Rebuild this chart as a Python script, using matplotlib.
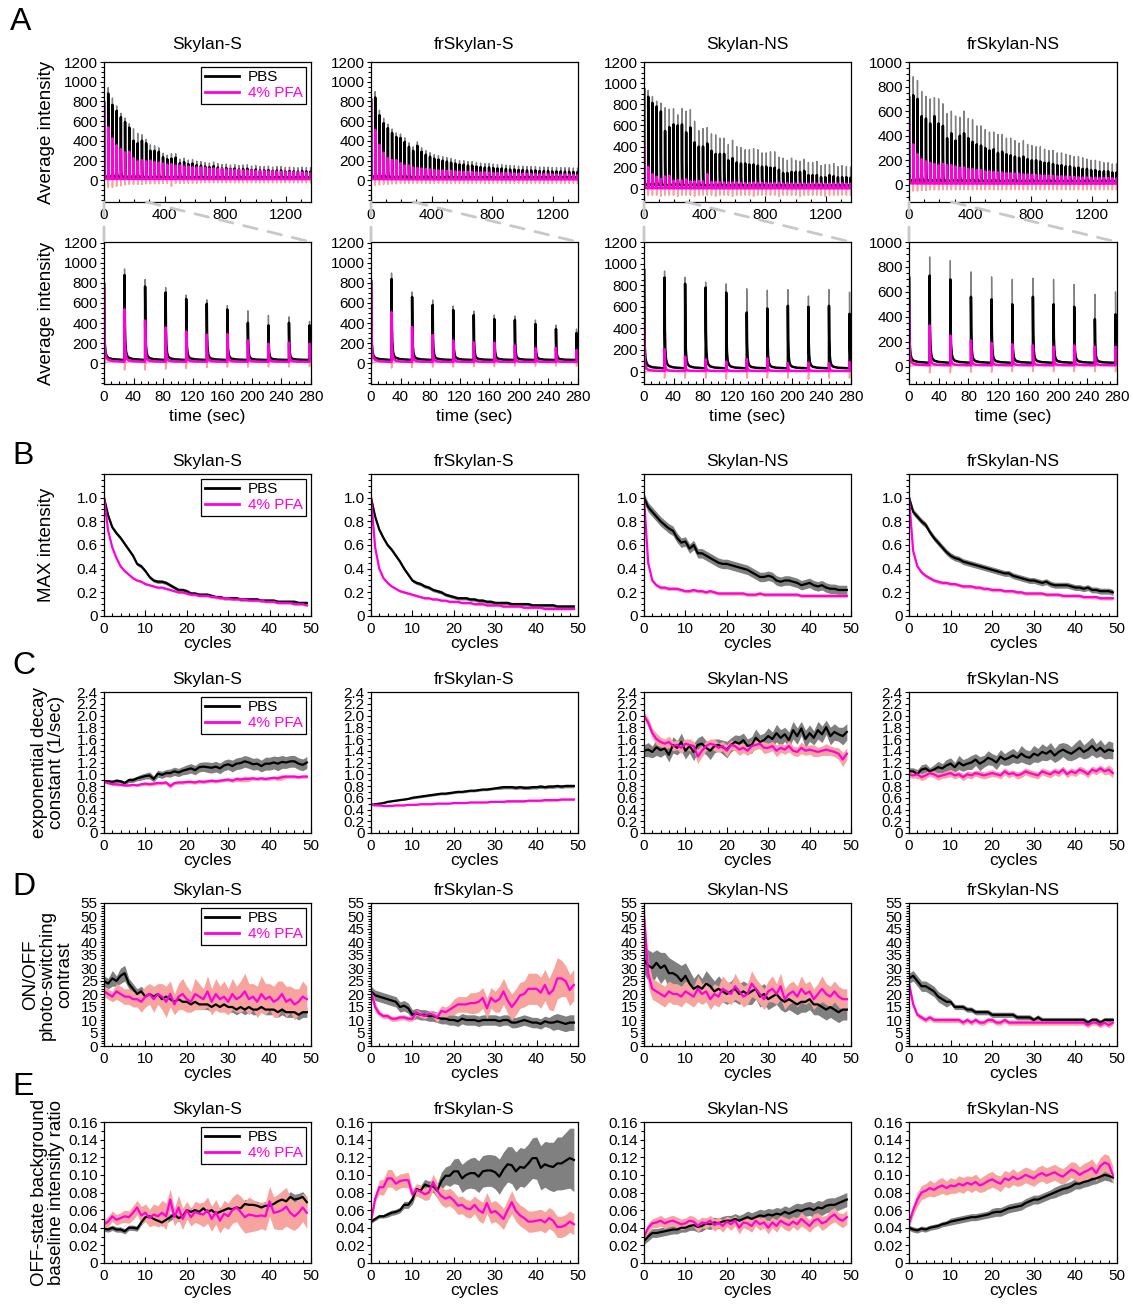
import numpy as np
import matplotlib
matplotlib.use("Agg")
import matplotlib.pyplot as plt
from matplotlib.patches import ConnectionPatch
from matplotlib.ticker import MultipleLocator, FuncFormatter

plt.rcParams['font.family'] = ['Liberation Sans', 'DejaVu Sans']

PROTEINS = ['Skylan-S', 'frSkylan-S', 'Skylan-NS', 'frSkylan-NS']
CYCLES = np.arange(50)

# ---------------- A: average intensity traces ----------------
A_PERIOD = 27.8                                   # sec per switching cycle
DECAY_T = [0, 0.4, 1, 2, 3.5, 6, 12, 27.7]        # sec after activation pulse
DECAY_F = [1, 0.45, 0.22, 0.1, 0.05, 0.025, 0.01, 0]

A_BASE_PBS = [30, 30, 30, 30]
A_BASE_PFA = [12, 10, 5, 10]

A_SKYS_PBS = [800, 880, 765, 705, 640, 592, 535, 402, 376, 402,
              376, 300, 300, 290, 235, 215, 220, 230, 175, 185,
              165, 170, 155, 150, 140, 135, 145, 130, 120, 125,
              115, 120, 110, 115, 118, 105, 110, 100, 100, 105,
              95, 100, 100, 90, 95, 90, 88, 95, 90, 88]
A_SKYS_PBS_SD = [250, 60, 70, 50, 40, 40, 40, 120, 100, 60,
                 40, 60, 50, 40, 40, 40, 50, 40, 40, 40,
                 40, 40, 40, 40, 40, 40, 40, 40, 40, 40,
                 40, 40, 40, 40, 40, 40, 40, 40, 40, 40,
                 40, 40, 40, 40, 40, 40, 40, 40, 40, 40]
A_SKYS_PFA = [760, 538, 425, 356, 316, 283, 290, 226, 193, 203,
              193, 200, 185, 180, 170, 160, 165, 150, 150, 140,
              140, 135, 130, 130, 125, 120, 120, 115, 115, 110,
              110, 105, 105, 100, 100, 100, 95, 95, 92, 90,
              90, 88, 85, 85, 85, 82, 80, 80, 78, 75]
A_SKYS_PFA_LOW = [-70, -70, -70, -60, -55, -45, -40, -40, -40, -40,
                  -35, -35, -35, -35, -30, -30, -60, -30, -30, -30,
                  -30, -30, -30, -25, -25, -25, -25, -25, -25, -25,
                  -25, -25, -25, -25, -25, -25, -25, -25, -25, -25,
                  -25, -25, -25, -25, -25, -25, -25, -25, -25, -25]

A_FRS_PBS = [830, 840, 660, 580, 530, 480, 440, 430, 390, 340,
             300, 350, 290, 260, 240, 220, 210, 200, 190, 180,
             170, 160, 160, 150, 150, 140, 135, 130, 130, 125,
             120, 120, 115, 110, 110, 105, 105, 100, 100, 100,
             95, 95, 95, 90, 90, 90, 88, 88, 85, 85]
A_FRS_PBS_SD = [60, 60, 50, 50, 40, 40, 40, 40, 40, 40,
                40, 40, 40, 40, 40, 40, 40, 40, 40, 40,
                40, 40, 40, 40, 40, 40, 40, 40, 40, 40,
                40, 40, 40, 40, 40, 40, 40, 40, 40, 40,
                40, 40, 40, 40, 40, 40, 40, 40, 40, 40]
A_FRS_PFA = [800, 510, 360, 280, 225, 205, 205, 175, 150, 150,
             130, 125, 120, 115, 110, 105, 100, 100, 95, 95,
             90, 90, 85, 85, 85, 80, 80, 80, 78, 75,
             75, 72, 72, 70, 70, 68, 68, 65, 65, 65,
             62, 62, 60, 60, 60, 58, 58, 58, 55, 55]
A_FRS_PFA_LOW = [-60, -50, -45, -40, -40, -35, -35, -30, -30, -30,
                 -30, -30, -30, -30, -30, -30, -30, -30, -30, -30,
                 -30, -30, -30, -30, -30, -30, -30, -30, -30, -30,
                 -30, -30, -30, -30, -30, -30, -30, -30, -30, -30,
                 -30, -30, -30, -30, -30, -30, -30, -30, -30, -30]

A_SKYNS_PBS = [950, 871, 813, 779, 732, 547, 584, 609, 600, 609,
               535, 580, 440, 400, 400, 430, 360, 330, 330, 330,
               270, 290, 250, 240, 240, 230, 230, 220, 210, 210,
               200, 200, 180, 150, 150, 160, 160, 160, 170, 130,
               130, 130, 110, 110, 130, 120, 110, 110, 110, 105]
A_SKYNS_PBS_SD = [40, 60, 60, 50, 80, 220, 170, 150, 100, 150,
                  200, 170, 200, 150, 170, 150, 160, 180, 150, 150,
                  150, 170, 150, 150, 130, 140, 150, 150, 130, 130,
                  150, 150, 120, 140, 120, 130, 110, 100, 110, 120,
                  120, 130, 110, 120, 100, 120, 100, 110, 100, 100]
A_SKYNS_PFA = [450, 207, 139, 114, 93, 117, 124, 77, 83, 77,
               90, 70, 70, 75, 70, 140, 65, 65, 60, 60,
               60, 60, 60, 55, 55, 55, 60, 55, 55, 55,
               55, 55, 55, 50, 55, 50, 50, 50, 50, 50,
               55, 50, 50, 50, 50, 50, 50, 50, 50, 50]
A_SKYNS_PFA_LOW = [-80, -60, -60, -60, -70, -60, -60, -60, -70, -60,
                   -60, -60, -70, -60, -60, -60, -60, -70, -60, -60,
                   -60, -70, -60, -60, -60, -60, -70, -60, -60, -60,
                   -60, -60, -70, -60, -60, -60, -60, -70, -60, -60,
                   -60, -60, -60, -70, -60, -60, -60, -60, -60, -60]

A_FRNS_PBS = [720, 730, 700, 560, 540, 500, 560, 500, 480, 380,
              420, 360, 400, 420, 380, 350, 330, 320, 300, 280,
              290, 260, 270, 250, 240, 230, 220, 230, 210, 200,
              200, 190, 180, 180, 170, 160, 160, 150, 150, 140,
              140, 130, 130, 120, 120, 110, 110, 110, 100, 100]
A_FRNS_PBS_SD = [150, 150, 150, 200, 180, 200, 150, 200, 180, 200,
                 180, 200, 150, 180, 160, 180, 150, 160, 150, 150,
                 140, 150, 140, 130, 140, 130, 120, 130, 120, 120,
                 110, 120, 110, 100, 110, 100, 100, 100, 90, 90,
                 90, 90, 80, 80, 80, 80, 70, 70, 70, 70]
A_FRNS_PFA = [500, 330, 250, 210, 190, 180, 170, 160, 170, 160,
              160, 150, 140, 140, 130, 130, 120, 120, 110, 110,
              105, 100, 100, 95, 95, 90, 90, 85, 85, 80,
              80, 78, 75, 75, 72, 70, 70, 68, 65, 65,
              62, 60, 60, 58, 58, 56, 55, 55, 54, 52]
A_FRNS_PFA_LOW = [-60, -50, -50, -45, -45, -40, -40, -40, -40, -40,
                  -40, -40, -40, -40, -40, -40, -40, -40, -40, -40,
                  -40, -40, -40, -40, -40, -40, -40, -40, -40, -40,
                  -40, -40, -40, -40, -40, -40, -40, -40, -40, -40,
                  -40, -40, -40, -40, -40, -40, -40, -40, -40, -40]

A_YLIM_TOP = [(-220, 1200), (-220, 1200), (-125, 1200), (-140, 1000)]
A_YLIM_BOT = [(-210, 1210), (-210, 1210), (-115, 1190), (-140, 1000)]
A_YTICK_MAX = [1200, 1200, 1200, 1000]

# ---------------- B: max intensity (x0.01) ----------------
B_SKYS_PBS = [100, 85, 75, 70, 66, 61, 56, 51, 44, 42,
              38, 33, 30, 29, 29, 28, 26, 24, 22, 22,
              21, 19, 19, 18, 18, 18, 17, 16, 16, 15,
              15, 15, 15, 14, 14, 14, 14, 14, 13, 13,
              13, 13, 12, 12, 12, 12, 12, 11, 11, 11]
B_SKYS_PFA = [100, 72, 58, 49, 42, 38, 35, 32, 30, 29,
              27, 26, 25, 24, 24, 23, 22, 21, 20, 20,
              19, 18, 18, 17, 17, 17, 16, 16, 15, 15,
              15, 14, 14, 14, 14, 13, 13, 13, 13, 12,
              12, 12, 11, 11, 11, 11, 10, 10, 10, 9]
B_FRS_PBS = [100, 84, 73, 66, 60, 56, 51, 46, 40, 35,
             30, 28, 27, 25, 24, 22, 21, 20, 18, 17,
             16, 15, 15, 15, 14, 14, 13, 13, 12, 12,
             11, 11, 11, 11, 10, 10, 10, 10, 10, 9,
             9, 9, 9, 9, 9, 8, 8, 8, 8, 8]
B_FRS_PFA = [100, 58, 40, 32, 28, 25, 23, 21, 20, 19,
             18, 17, 16, 15, 15, 14, 14, 13, 13, 12,
             12, 12, 11, 11, 11, 10, 10, 10, 9, 9,
             9, 9, 8, 8, 8, 8, 8, 7, 7, 7,
             7, 7, 6, 6, 6, 6, 6, 6, 6, 6]
B_SKYNS_PBS = [100, 92, 88, 84, 80, 77, 74, 72, 66, 62,
               63, 57, 60, 53, 53, 51, 49, 47, 45, 44,
               44, 43, 42, 41, 40, 39, 37, 35, 33, 33,
               34, 33, 30, 29, 30, 30, 29, 28, 26, 27,
               28, 26, 25, 26, 24, 23, 23, 22, 22, 22]
B_SKYNS_PFA = [100, 45, 30, 26, 24, 24, 23, 23, 23, 22,
               21, 21, 22, 21, 21, 20, 21, 20, 19, 19,
               19, 19, 19, 19, 19, 18, 18, 18, 19, 18,
               18, 18, 18, 18, 18, 18, 18, 18, 17, 17,
               17, 17, 17, 17, 17, 17, 17, 17, 17, 17]
B_FRNS_PBS = [100, 88, 84, 80, 77, 71, 66, 62, 58, 54,
              51, 49, 48, 46, 45, 44, 43, 42, 41, 40,
              39, 38, 37, 36, 36, 34, 33, 32, 31, 30,
              30, 29, 28, 29, 27, 26, 26, 26, 26, 25,
              24, 24, 23, 24, 22, 22, 21, 21, 21, 20]
B_FRNS_PFA = [100, 55, 42, 37, 34, 32, 30, 29, 28, 28,
              27, 27, 26, 25, 25, 25, 24, 24, 23, 23,
              22, 22, 22, 21, 21, 21, 20, 20, 19, 19,
              19, 19, 19, 18, 18, 18, 18, 17, 17, 17,
              17, 17, 16, 16, 16, 16, 15, 15, 15, 15]
B_SD_PBS = [1.5, 1.5, 4.0, 2.5]
B_SD_PFA = [1.0, 1.0, 1.5, 1.5]

# ---------------- C: exponential decay constant (x0.01) ----------------
C_SKYS_PBS = [88, 88, 87, 89, 88, 85, 90, 90, 93, 95,
              97, 98, 92, 101, 99, 102, 102, 105, 103, 106,
              108, 110, 107, 112, 113, 112, 111, 113, 110, 115,
              117, 114, 118, 119, 122, 120, 117, 118, 114, 118,
              118, 120, 118, 121, 120, 122, 122, 118, 116, 120]
C_SKYS_PBS_SD = [3, 3, 3, 3, 3, 3, 4, 4, 4, 5,
                 5, 6, 5, 6, 6, 6, 7, 7, 7, 7,
                 8, 8, 8, 8, 8, 9, 9, 9, 9, 9,
                 9, 10, 10, 10, 10, 10, 10, 10, 10, 11,
                 11, 11, 12, 11, 10, 10, 10, 10, 10, 10]
C_SKYS_PFA = [87, 85, 83, 83, 82, 81, 81, 82, 81, 83,
              84, 83, 84, 85, 85, 86, 80, 85, 86, 86,
              87, 87, 86, 88, 87, 88, 89, 88, 89, 90,
              91, 89, 92, 91, 92, 92, 93, 92, 93, 92,
              93, 94, 93, 95, 96, 96, 96, 95, 96, 96]
C_SKYS_PFA_SD = [2, 2, 2, 3, 2, 2, 2, 2, 2, 3,
                 3, 3, 3, 3, 3, 3, 4, 3, 3, 3,
                 3, 3, 3, 3, 3, 3, 3, 3, 3, 3,
                 3, 3, 4, 4, 5, 4, 3, 3, 3, 3,
                 3, 3, 4, 5, 3, 3, 3, 3, 3, 3]
C_FRS_PBS = [48, 49, 50, 51, 53, 54, 55, 56, 57, 58,
             60, 61, 62, 63, 64, 65, 66, 67, 67, 68,
             69, 70, 70, 71, 72, 72, 73, 74, 74, 75,
             76, 77, 78, 78, 78, 77, 78, 77, 77, 78,
             78, 79, 78, 79, 79, 80, 79, 80, 80, 80]
C_FRS_PBS_SD = [1, 1, 1, 1, 1, 1, 1, 1, 1, 1,
                2, 2, 2, 2, 2, 2, 2, 2, 2, 2,
                2, 2, 2, 2, 2, 2, 2, 2, 2, 2,
                2, 3, 3, 3, 3, 3, 3, 3, 3, 3,
                3, 3, 3, 3, 3, 3, 3, 3, 3, 3]
C_FRS_PFA = [48, 47, 47, 46, 46, 46, 47, 47, 47, 48,
             48, 48, 49, 49, 49, 49, 50, 50, 50, 50,
             51, 51, 51, 51, 52, 52, 52, 52, 52, 53,
             53, 53, 53, 54, 54, 54, 54, 54, 55, 55,
             55, 55, 56, 56, 56, 56, 57, 57, 57, 57]
C_FRS_PFA_SD = [1, 1, 1, 1, 1, 1, 1, 1, 1, 1,
                1, 1, 1, 1, 1, 1, 1, 1, 1, 1,
                1, 1, 1, 1, 1, 1, 1, 1, 1, 1,
                1, 1, 2, 2, 2, 2, 2, 2, 2, 2,
                2, 2, 2, 2, 2, 2, 2, 2, 2, 2]
C_SKYNS_PBS = [140, 142, 138, 146, 141, 144, 133, 150, 145, 155,
               140, 148, 138, 150, 152, 145, 140, 148, 150, 146,
               142, 150, 155, 152, 158, 148, 150, 162, 155, 158,
               165, 160, 170, 162, 168, 158, 175, 165, 178, 160,
               170, 162, 175, 168, 180, 165, 172, 168, 165, 172]
C_SKYNS_PBS_SD = [10, 12, 10, 14, 12, 10, 12, 14, 12, 15,
                  14, 12, 15, 12, 14, 12, 15, 12, 10, 12,
                  14, 12, 12, 14, 12, 12, 14, 15, 12, 12,
                  14, 12, 15, 14, 12, 14, 15, 14, 12, 15,
                  14, 12, 15, 14, 12, 15, 14, 12, 15, 14]
C_SKYNS_PFA = [200, 188, 170, 160, 155, 152, 155, 148, 150, 145,
               152, 150, 148, 130, 140, 148, 152, 150, 145, 148,
               140, 150, 148, 142, 145, 140, 148, 150, 152, 145,
               145, 148, 140, 145, 142, 148, 140, 138, 145, 140,
               142, 140, 138, 140, 142, 140, 138, 135, 125, 135]
C_SKYNS_PFA_SD = [6, 8, 8, 10, 8, 8, 10, 8, 8, 10,
                  8, 10, 8, 12, 10, 8, 8, 10, 8, 8,
                  10, 8, 8, 10, 8, 8, 10, 8, 8, 10,
                  8, 8, 10, 8, 8, 10, 8, 8, 10, 8,
                  8, 10, 8, 8, 10, 8, 8, 10, 12, 10]
C_FRNS_PBS = [105, 105, 100, 108, 110, 105, 108, 112, 110, 115,
              118, 112, 120, 115, 118, 120, 125, 118, 122, 128,
              125, 120, 130, 125, 128, 132, 128, 135, 130, 128,
              135, 132, 138, 135, 140, 132, 138, 142, 138, 135,
              140, 145, 138, 142, 148, 140, 145, 138, 142, 140]
C_FRNS_PBS_SD = [6, 6, 8, 8, 8, 6, 8, 10, 8, 10,
                 10, 8, 12, 10, 10, 12, 10, 12, 10, 12,
                 10, 12, 12, 10, 12, 12, 10, 14, 12, 12,
                 14, 12, 14, 12, 14, 12, 14, 12, 14, 12,
                 14, 15, 12, 14, 15, 12, 14, 12, 15, 14]
C_FRNS_PFA = [100, 98, 100, 95, 98, 102, 100, 96, 98, 100,
              102, 98, 100, 95, 100, 98, 102, 100, 98, 100,
              102, 100, 98, 105, 100, 102, 98, 100, 105, 102,
              100, 98, 105, 102, 100, 105, 102, 108, 100, 105,
              102, 108, 105, 100, 108, 105, 110, 105, 108, 102]
C_FRNS_PFA_SD = [5, 5, 6, 6, 6, 5, 6, 6, 5, 6,
                 6, 6, 5, 6, 6, 6, 5, 6, 6, 6,
                 6, 5, 6, 6, 6, 5, 6, 6, 6, 6,
                 6, 6, 6, 6, 6, 6, 6, 6, 6, 6,
                 6, 6, 6, 6, 6, 6, 6, 6, 8, 8]

# ---------------- D: ON/OFF contrast ----------------
D_SKYS_PBS = [25, 24, 26, 25, 27, 28, 24, 22, 20, 21,
              19, 20, 19, 20, 18, 19, 18, 17, 18, 17,
              17, 16, 17, 16, 16, 16, 15, 16, 15, 16,
              15, 15, 14, 15, 14, 15, 14, 14, 15, 14,
              14, 14, 13, 14, 13, 13, 13, 12, 13, 13]
D_SKYS_PBS_SD = [2, 2, 3, 2, 3, 3, 2, 2, 2, 2,
                 2, 2, 2, 2, 2, 2, 2, 2, 2, 2,
                 2, 2, 2, 2, 2, 2, 2, 2, 2, 2,
                 2, 2, 2, 2, 2, 2, 2, 2, 2, 2,
                 2, 2, 2, 2, 2, 2, 2, 2, 2, 2]
D_SKYS_PFA = [21, 20, 19, 21, 20, 19, 19, 18, 18, 17,
              19, 20, 18, 20, 19, 17, 20, 16, 19, 20,
              18, 17, 20, 19, 18, 21, 17, 20, 18, 19,
              17, 20, 18, 19, 21, 18, 19, 17, 20, 18,
              19, 17, 18, 20, 17, 18, 16, 17, 19, 18]
D_SKYS_PFA_SD = [2, 2, 2, 3, 3, 3, 3, 3, 3, 4,
                 4, 4, 5, 4, 5, 6, 5, 4, 5, 6,
                 5, 4, 6, 5, 4, 6, 5, 6, 5, 6,
                 5, 6, 5, 6, 7, 6, 5, 6, 7, 6,
                 5, 6, 7, 5, 6, 5, 6, 5, 6, 5]
D_FRS_PBS = [21, 19.5, 19, 18.5, 18, 17.5, 17, 15, 15.5, 14.5,
             12, 12.5, 12, 12, 11.5, 11.5, 11, 10.5, 10.5, 10,
             10, 9.5, 10.5, 10, 10, 10, 9.5, 10, 10, 10,
             10, 9.5, 10, 10, 9, 9, 9.5, 10, 9.5, 9,
             9, 8.5, 9.5, 9, 9, 9.5, 9, 8.5, 9, 9]
D_FRS_PBS_SD = [2, 2, 2, 2, 2, 2, 2, 2, 2, 2,
                2, 2, 2, 2, 2, 2, 2, 2, 2, 2,
                2, 2, 2, 2, 2, 2, 2, 2, 2, 2,
                2, 2, 2, 2, 2, 2, 2, 2, 2, 2,
                2, 2, 2, 2, 3, 3, 3, 3, 3, 3]
D_FRS_PFA = [21, 15, 12.5, 11.5, 11.5, 10.5, 10.5, 11, 11, 10.5,
             10.5, 13, 12, 11.5, 12.5, 12, 11, 13.5, 13, 14,
             15, 16, 16, 16, 16.5, 16.5, 17, 18.5, 14.5, 18.5,
             17, 18, 21, 17.5, 15, 17, 19.5, 20, 22, 22,
             22, 20.5, 23.5, 20, 21.5, 26, 26, 25, 21.5, 23.5]
D_FRS_PFA_SD = [2, 2, 1, 1, 1, 1, 1, 1, 1, 1,
                1, 1, 1, 1, 1, 1, 2, 2, 2, 2,
                3, 3, 3, 3, 4, 4, 4, 4, 4, 4,
                4, 5, 5, 5, 5, 5, 5, 5, 6, 6,
                6, 6, 6, 6, 8, 8, 7, 6, 6, 6]
D_SKYNS_PBS = [33, 31, 30, 32, 30, 31, 28, 28, 27, 25,
               27, 24, 22, 23, 22, 24, 23, 21, 22, 21,
               20, 21, 22, 20, 21, 20, 21, 22, 19, 20,
               18, 19, 20, 18, 17, 18, 17, 16, 17, 17,
               18, 16, 16, 15, 14, 15, 14, 13, 14, 14]
D_SKYNS_PBS_SD = [5, 6, 6, 5, 6, 5, 6, 5, 5, 6,
                  5, 5, 4, 5, 4, 5, 4, 4, 5, 4,
                  4, 4, 5, 4, 4, 4, 5, 4, 4, 4,
                  4, 4, 4, 4, 4, 4, 4, 4, 4, 4,
                  4, 4, 4, 4, 4, 4, 4, 4, 4, 4]
D_SKYNS_PFA = [50, 28, 22, 21, 20, 19, 21, 20, 20, 19,
               21, 20, 19, 22, 20, 21, 18, 20, 19, 22,
               21, 20, 23, 21, 19, 20, 24, 22, 20, 18,
               21, 22, 20, 23, 18, 20, 21, 19, 22, 20,
               21, 18, 20, 22, 20, 19, 21, 19, 18, 18]
D_SKYNS_PFA_SD = [6, 5, 4, 4, 4, 4, 4, 4, 4, 4,
                  4, 4, 4, 5, 4, 4, 4, 4, 4, 5,
                  4, 4, 5, 4, 4, 4, 5, 4, 4, 4,
                  4, 5, 4, 5, 4, 4, 4, 4, 5, 4,
                  4, 4, 4, 5, 4, 4, 4, 4, 4, 4]
D_FRNS_PBS = [26, 27, 25, 23, 23, 22, 21, 19, 18, 17,
              17, 15, 15, 15, 14, 14, 13, 13, 13, 13,
              12, 12, 12, 12, 12, 12, 11, 11, 11, 11,
              10, 11, 10, 10, 10, 10, 10, 10, 10, 10,
              10, 10, 10, 9, 10, 10, 9, 10, 10, 10]
D_FRNS_PBS_SD = [2, 2, 2, 2, 2, 2, 2, 2, 2, 2,
                 1, 1, 1, 1, 1, 1, 1, 1, 1, 1,
                 1, 1, 1, 1, 1, 1, 1, 1, 1, 1,
                 1, 1, 1, 1, 1, 1, 1, 1, 1, 1,
                 1, 1, 1, 1, 1, 1, 1, 1, 1, 1]
D_FRNS_PFA = [24, 16, 12, 11, 10, 11, 10, 10, 10, 10,
              10, 10, 10, 9, 10, 9, 10, 9, 9, 10,
              10, 9, 9, 10, 9, 9, 9, 9, 9, 9,
              9, 9, 9, 9, 9, 9, 9, 9, 9, 9,
              9, 9, 9, 8, 9, 9, 8, 9, 8, 9]
D_FRNS_PFA_SD = [2, 1, 1, 1, 1, 1, 1, 1, 1, 1,
                 1, 1, 1, 1, 1, 1, 1, 1, 1, 1,
                 1, 1, 1, 1, 1, 1, 1, 1, 1, 1,
                 1, 1, 1, 1, 1, 1, 1, 1, 1, 1,
                 1, 1, 1, 1, 1, 1, 1, 1, 1, 1]

# ---------------- E: OFF-state baseline ratio (x0.001) ----------------
E_SKYS_PBS = [39, 38, 40, 38, 38, 36, 40, 40, 39, 46,
              52, 53, 50, 48, 46, 49, 52, 55, 51, 53,
              60, 58, 60, 58, 62, 58, 60, 56, 58, 60,
              62, 61, 63, 62, 67, 66, 66, 65, 63, 65,
              65, 67, 70, 72, 70, 75, 72, 73, 75, 69]
E_SKYS_PBS_SD = [3, 3, 3, 3, 3, 3, 3, 3, 3, 3,
                 4, 4, 4, 4, 4, 4, 4, 4, 4, 4,
                 5, 5, 5, 5, 5, 5, 5, 5, 5, 5,
                 5, 5, 5, 5, 5, 5, 5, 5, 5, 5,
                 6, 6, 6, 6, 6, 6, 6, 6, 6, 6]
E_SKYS_PFA = [44, 47, 53, 49, 51, 53, 52, 57, 63, 54,
              57, 51, 55, 53, 57, 53, 72, 52, 63, 50,
              60, 52, 58, 56, 55, 60, 50, 58, 48, 56,
              53, 60, 63, 58, 52, 55, 54, 53, 54, 53,
              70, 57, 58, 60, 64, 57, 53, 57, 63, 57]
E_SKYS_PFA_SD = [5, 6, 6, 6, 6, 7, 7, 8, 8, 10,
                 10, 10, 12, 12, 14, 15, 12, 10, 14, 12,
                 10, 10, 12, 12, 14, 15, 14, 14, 14, 15,
                 15, 15, 16, 18, 18, 20, 18, 16, 15, 16,
                 17, 18, 20, 22, 22, 18, 16, 16, 16, 18]
E_FRS_PBS = [47, 50, 53, 53, 55, 57, 58, 60, 66, 66,
             72, 84, 82, 89, 87, 87, 82, 93, 99, 99,
             104, 104, 96, 100, 102, 102, 98, 104, 105, 105,
             103, 98, 106, 112, 111, 104, 109, 108, 113, 119,
             119, 108, 112, 110, 109, 113, 113, 116, 119, 117]
E_FRS_PBS_SD = [2, 2, 2, 2, 3, 3, 3, 3, 4, 4,
                5, 5, 6, 6, 6, 7, 8, 10, 10, 12,
                14, 15, 16, 16, 17, 18, 18, 18, 18, 18,
                19, 20, 20, 20, 21, 22, 22, 22, 22, 23,
                24, 25, 26, 27, 28, 30, 30, 32, 34, 36]
E_FRS_PFA = [47, 73, 86, 86, 96, 96, 90, 93, 94, 94,
             78, 83, 81, 78, 80, 92, 82, 76, 73, 75,
             71, 65, 66, 62, 61, 66, 60, 57, 68, 57,
             59, 55, 50, 60, 69, 59, 54, 51, 47, 47,
             48, 49, 46, 51, 48, 41, 41, 43, 47, 44]
E_FRS_PFA_SD = [3, 4, 8, 9, 10, 10, 8, 8, 8, 9,
                6, 7, 7, 7, 8, 9, 9, 10, 10, 10,
                10, 10, 10, 10, 10, 10, 12, 12, 12, 12,
                12, 12, 12, 12, 13, 12, 12, 12, 12, 12,
                12, 12, 12, 12, 12, 12, 12, 12, 12, 12]
E_SKYNS_PBS = [25, 30, 34, 34, 35, 36, 37, 38, 38, 40,
               40, 42, 43, 41, 42, 45, 44, 46, 45, 47,
               48, 48, 50, 48, 50, 52, 50, 52, 54, 53,
               55, 54, 56, 55, 58, 56, 58, 60, 59, 61,
               62, 60, 63, 62, 65, 66, 66, 68, 70, 72]
E_SKYNS_PBS_SD = [4, 5, 5, 5, 5, 5, 5, 5, 5, 5,
                  5, 5, 6, 6, 6, 6, 6, 6, 6, 6,
                  6, 6, 6, 6, 6, 7, 7, 7, 7, 7,
                  7, 7, 7, 7, 7, 7, 8, 8, 8, 8,
                  8, 8, 8, 8, 8, 8, 8, 8, 8, 8]
E_SKYNS_PFA = [30, 40, 45, 46, 48, 45, 47, 48, 46, 44,
               45, 48, 47, 42, 46, 45, 48, 43, 46, 42,
               47, 44, 48, 40, 46, 45, 42, 48, 44, 46,
               40, 46, 42, 48, 45, 43, 47, 44, 50, 46,
               42, 48, 50, 45, 47, 52, 55, 50, 48, 52]
E_SKYNS_PFA_SD = [4, 5, 5, 6, 6, 6, 6, 6, 6, 6,
                  6, 6, 6, 7, 6, 6, 6, 7, 6, 7,
                  6, 7, 6, 7, 6, 7, 7, 6, 7, 6,
                  7, 6, 7, 6, 7, 7, 6, 7, 8, 7,
                  7, 8, 7, 8, 7, 8, 8, 7, 8, 8]
E_FRNS_PBS = [40, 38, 37, 39, 38, 40, 41, 42, 44, 45,
              47, 48, 49, 50, 51, 52, 52, 53, 54, 55,
              57, 58, 58, 60, 62, 63, 64, 65, 68, 70,
              72, 72, 74, 76, 78, 80, 82, 84, 85, 87,
              90, 90, 92, 93, 95, 96, 98, 100, 99, 97]
E_FRNS_PBS_SD = [3, 3, 3, 3, 3, 3, 3, 3, 3, 3,
                 4, 4, 4, 4, 4, 4, 4, 4, 4, 4,
                 5, 5, 5, 5, 5, 5, 5, 5, 5, 5,
                 5, 5, 5, 5, 5, 6, 6, 6, 6, 6,
                 6, 6, 6, 6, 6, 6, 6, 6, 6, 6]
E_FRNS_PFA = [45, 60, 72, 80, 82, 85, 83, 86, 88, 85,
              88, 87, 90, 88, 91, 89, 92, 88, 90, 93,
              95, 92, 90, 96, 94, 98, 95, 97, 100, 98,
              96, 100, 102, 99, 101, 103, 100, 98, 102, 106,
              104, 100, 103, 105, 108, 102, 110, 114, 112, 100]
E_FRNS_PFA_SD = [5, 6, 8, 8, 8, 9, 8, 9, 9, 8,
                 9, 8, 9, 9, 8, 9, 9, 8, 9, 9,
                 9, 8, 9, 9, 9, 9, 8, 9, 9, 9,
                 9, 9, 9, 9, 9, 9, 9, 9, 9, 9,
                 10, 9, 10, 10, 10, 9, 10, 10, 10, 10]

# ---------------- styling ----------------
BLACK = 'black'
PINK = '#ff00dd'
GREY = '#808080'
SALMON = '#f8a49e'
LEG_LABELS = ['PBS', '4% PFA']

W, H = 1133, 1304
COL_X = [(104, 311), (371, 578), (644, 851), (909, 1117)]
ROW_Y = [(62, 202), (242, 384), (474, 616), (692, 833), (903, 1046), (1122, 1263)]

fig = plt.figure(figsize=(W / 100, H / 100), dpi=100)


def make_ax(r, c):
    x0, x1 = COL_X[c]
    y0, y1 = ROW_Y[r]
    return fig.add_axes([x0 / W, 1 - y1 / H, (x1 - x0) / W, (y1 - y0) / H])


def style(ax):
    ax.tick_params(axis='both', which='both', labelsize=11, width=0.8)
    ax.tick_params(axis='x', which='major', direction='in', length=4, pad=4)
    ax.tick_params(axis='x', which='minor', direction='in', length=2.5)
    ax.tick_params(axis='y', which='major', direction='out', length=3, pad=1.5)
    ax.tick_params(axis='y', which='minor', direction='out', length=2)
    for s in ax.spines.values():
        s.set_linewidth(0.9)


def zero_fmt(dec):
    return FuncFormatter(lambda v, p: '0' if abs(v) < 1e-9 else f'{v:.{dec}f}')


def add_legend(ax):
    h = [plt.Line2D([], [], color=BLACK, lw=2), plt.Line2D([], [], color=PINK, lw=2)]
    leg = ax.legend(h, LEG_LABELS, loc='upper right', fontsize=11, frameon=True,
                    fancybox=False, framealpha=1, edgecolor='black', borderpad=0.25,
                    handlelength=2.2, handletextpad=0.6, labelspacing=0.1,
                    borderaxespad=0.3, labelcolor=[BLACK, PINK])
    leg.get_frame().set_linewidth(0.9)


def trace(peaks, base, top_vals=None):
    # each cycle: jump from baseline to the value at the pulse, then decay shape
    ts, ys = [], []
    vals = peaks if top_vals is None else top_vals
    for k, v in enumerate(vals):
        t0 = k * A_PERIOD
        ts.append(t0)
        ys.append(base)
        for dt, f in zip(DECAY_T, DECAY_F):
            ts.append(t0 + dt)
            ys.append(base + (v - base) * f)
    return np.array(ts), np.array(ys)


A_PBS = [A_SKYS_PBS, A_FRS_PBS, A_SKYNS_PBS, A_FRNS_PBS]
A_PBS_SD = [A_SKYS_PBS_SD, A_FRS_PBS_SD, A_SKYNS_PBS_SD, A_FRNS_PBS_SD]
A_PFA = [A_SKYS_PFA, A_FRS_PFA, A_SKYNS_PFA, A_FRNS_PFA]
A_PFA_LOW = [A_SKYS_PFA_LOW, A_FRS_PFA_LOW, A_SKYNS_PFA_LOW, A_FRNS_PFA_LOW]

for c in range(4):
    bp, bf = A_BASE_PBS[c], A_BASE_PFA[c]
    t, y_pbs = trace(A_PBS[c], bp)
    _, y_hi = trace(A_PBS[c], bp, list(np.array(A_PBS[c]) + np.array(A_PBS_SD[c])))
    _, y_pfa = trace(A_PFA[c], bf)
    _, y_lo = trace(A_PFA[c], bf, A_PFA_LOW[c])
    axes_pair = []
    for r, xlim in ((0, (0, 1365)), (1, (0, 280))):
        ax = make_ax(r, c)
        lw = 1.8
        ax.plot(t, y_hi, color=GREY, lw=1.0)
        ax.plot(t, y_lo, color=SALMON, lw=1.2)
        ax.plot(t, y_pbs, color=BLACK, lw=lw)
        ax.plot(t, y_pfa, color=PINK, lw=lw)
        ax.set_xlim(*xlim)
        ax.set_ylim(*(A_YLIM_TOP[c] if r == 0 else A_YLIM_BOT[c]))
        ax.set_yticks(np.arange(0, A_YTICK_MAX[c] + 1, 200))
        ax.yaxis.set_minor_locator(MultipleLocator(50))
        if r == 0:
            ax.set_xticks([0, 400, 800, 1200])
            ax.xaxis.set_minor_locator(MultipleLocator(100))
            ax.set_title(PROTEINS[c], fontsize=12.5, pad=9)
        else:
            ax.set_xticks(np.arange(0, 281, 40))
            ax.xaxis.set_minor_locator(MultipleLocator(10))
            ax.set_xlabel('time (sec)', fontsize=12.5, labelpad=4)
        style(ax)
        if c == 0:
            ax.set_ylabel('Average intensity', fontsize=13.5)
            ax.yaxis.set_label_coords(-0.235, 0.5)
            if r == 0:
                add_legend(ax)
        axes_pair.append(ax)
    top, bot = axes_pair
    for xv in (0, 280):
        con = ConnectionPatch(xyA=(xv, top.get_ylim()[0]), coordsA=top.transData,
                              xyB=(xv, bot.get_ylim()[1]), coordsB=bot.transData,
                              color='#c8c8c8', lw=2, linestyle=(0, (5, 4)))
        fig.add_artist(con)

# ---------------- B..E cycle panels ----------------
pct = lambda v: np.array(v, dtype=float) / 100.0
mil = lambda v: np.array(v, dtype=float) / 1000.0

B_ROWS = [
    [(pct(B_SKYS_PBS), np.full(50, B_SD_PBS[0] / 100)), (pct(B_SKYS_PFA), np.full(50, B_SD_PFA[0] / 100))],
    [(pct(B_FRS_PBS), np.full(50, B_SD_PBS[1] / 100)), (pct(B_FRS_PFA), np.full(50, B_SD_PFA[1] / 100))],
    [(pct(B_SKYNS_PBS), np.full(50, B_SD_PBS[2] / 100)), (pct(B_SKYNS_PFA), np.full(50, B_SD_PFA[2] / 100))],
    [(pct(B_FRNS_PBS), np.full(50, B_SD_PBS[3] / 100)), (pct(B_FRNS_PFA), np.full(50, B_SD_PFA[3] / 100))],
]
C_ROWS = [
    [(pct(C_SKYS_PBS), pct(C_SKYS_PBS_SD)), (pct(C_SKYS_PFA), pct(C_SKYS_PFA_SD))],
    [(pct(C_FRS_PBS), pct(C_FRS_PBS_SD)), (pct(C_FRS_PFA), pct(C_FRS_PFA_SD))],
    [(pct(C_SKYNS_PBS), pct(C_SKYNS_PBS_SD)), (pct(C_SKYNS_PFA), pct(C_SKYNS_PFA_SD))],
    [(pct(C_FRNS_PBS), pct(C_FRNS_PBS_SD)), (pct(C_FRNS_PFA), pct(C_FRNS_PFA_SD))],
]
D_ROWS = [
    [(np.array(D_SKYS_PBS), np.array(D_SKYS_PBS_SD)), (np.array(D_SKYS_PFA), np.array(D_SKYS_PFA_SD))],
    [(np.array(D_FRS_PBS), np.array(D_FRS_PBS_SD)), (np.array(D_FRS_PFA), np.array(D_FRS_PFA_SD))],
    [(np.array(D_SKYNS_PBS), np.array(D_SKYNS_PBS_SD)), (np.array(D_SKYNS_PFA), np.array(D_SKYNS_PFA_SD))],
    [(np.array(D_FRNS_PBS), np.array(D_FRNS_PBS_SD)), (np.array(D_FRNS_PFA), np.array(D_FRNS_PFA_SD))],
]
E_ROWS = [
    [(mil(E_SKYS_PBS), mil(E_SKYS_PBS_SD)), (mil(E_SKYS_PFA), mil(E_SKYS_PFA_SD))],
    [(mil(E_FRS_PBS), mil(E_FRS_PBS_SD)), (mil(E_FRS_PFA), mil(E_FRS_PFA_SD))],
    [(mil(E_SKYNS_PBS), mil(E_SKYNS_PBS_SD)), (mil(E_SKYNS_PFA), mil(E_SKYNS_PFA_SD))],
    [(mil(E_FRNS_PBS), mil(E_FRNS_PBS_SD)), (mil(E_FRNS_PFA), mil(E_FRNS_PFA_SD))],
]

PANELS = [
    # row, data, ylim, yticks, minor, decimals, ylabel, label x
    (2, B_ROWS, (0, 1.2), np.arange(0, 1.01, 0.2), 0.05, 1, 'MAX intensity', -0.235),
    (3, C_ROWS, (0, 2.4), np.arange(0, 2.41, 0.2), 0.1, 1, 'exponential decay\nconstant (1/sec)', -0.19),
    (4, D_ROWS, (0, 55), np.arange(0, 56, 5), 1, 0, 'ON/OFF\nphoto-switching\ncontrast', -0.15),
    (5, E_ROWS, (0, 0.16), np.arange(0, 0.161, 0.02), 0.01, 2, 'OFF-state background\nbaseline intensity ratio', -0.19),
]

for r, rows, ylim, yticks, minor, dec, ylab, lx in PANELS:
    for c in range(4):
        ax = make_ax(r, c)
        (m1, s1), (m2, s2) = rows[c]
        ax.fill_between(CYCLES, m1 - s1, m1 + s1, color=GREY, lw=0)
        ax.fill_between(CYCLES, m2 - s2, m2 + s2, color=SALMON, lw=0)
        ax.plot(CYCLES, m1, color=BLACK, lw=1.6)
        ax.plot(CYCLES, m2, color=PINK, lw=1.6)
        ax.set_xlim(0, 50)
        ax.set_ylim(*ylim)
        ax.xaxis.set_major_locator(MultipleLocator(10))
        ax.xaxis.set_minor_locator(MultipleLocator(2))
        ax.set_yticks(yticks)
        ax.yaxis.set_minor_locator(MultipleLocator(minor))
        if dec > 0:
            ax.yaxis.set_major_formatter(zero_fmt(dec))
        ax.set_xlabel('cycles', fontsize=12.5, labelpad=0)
        ax.set_title(PROTEINS[c], fontsize=12.5, pad=6)
        style(ax)
        if c == 0:
            ax.set_ylabel(ylab, fontsize=13.5, linespacing=1.0)
            ax.yaxis.set_label_coords(lx, 0.5)
            add_legend(ax)

for letter, (x, y) in zip('ABCDE', [(10, 7), (12, 441), (12, 651), (12, 872), (12, 1072)]):
    fig.text(x / W, 1 - y / H, letter, fontsize=23, va='top', ha='left')

fig.savefig('out.png', dpi=100)
